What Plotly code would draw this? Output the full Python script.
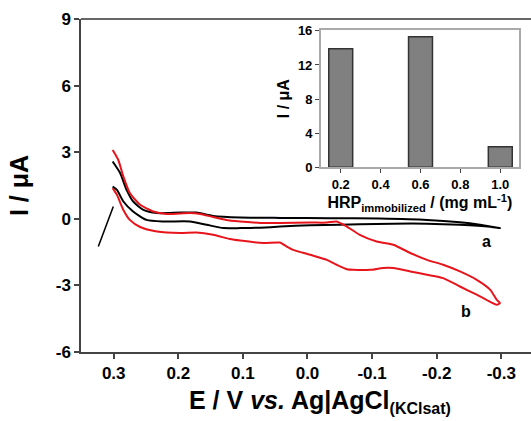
import plotly.graph_objects as go

# Curve a (black) : E / V, I / uA  (upper branch then return branch)
a_E = [0.3016, 0.290, 0.280, 0.270, 0.254, 0.233, 0.197, 0.172, 0.146, 0.104, 0.042, -0.035, -0.112, -0.185, -0.236, -0.267, -0.298,
       -0.283, -0.236, -0.185, -0.132, -0.081, -0.050, -0.004, 0.042, 0.073, 0.104, 0.130, 0.156, 0.182, 0.223, 0.249, 0.270, 0.285, 0.295, 0.3016]
a_I = [2.58, 2.06, 1.30, 0.78, 0.40, 0.26, 0.28, 0.28, 0.13, 0.06, 0.04, 0.03, 0.01, -0.05, -0.16, -0.27, -0.42,
       -0.36, -0.27, -0.22, -0.22, -0.25, -0.27, -0.29, -0.35, -0.40, -0.42, -0.42, -0.27, -0.12, -0.12, -0.05, 0.33, 0.78, 1.30, 1.45]

# Curve b (red)
b_E = [0.3016, 0.293, 0.285, 0.275, 0.259, 0.239, 0.218, 0.182, 0.166, 0.146, 0.120, 0.104, 0.073, 0.042, -0.004, -0.030, -0.045,
       -0.061, -0.081, -0.107, -0.133, -0.159, -0.185, -0.210, -0.236, -0.262, -0.283, -0.293, -0.298,
       -0.293, -0.277, -0.262, -0.236, -0.210, -0.185, -0.159, -0.133, -0.117, -0.097, -0.071, -0.061, -0.045, -0.030,
       -0.004, 0.022, 0.032, 0.043, 0.068, 0.104, 0.120, 0.146, 0.172, 0.197, 0.233, 0.259, 0.275, 0.285, 0.295, 0.3016]
b_I = [3.10, 2.66, 1.90, 1.16, 0.63, 0.33, 0.22, 0.26, 0.22, 0.08, -0.08, -0.12, -0.19, -0.19, -0.17, -0.17, -0.12,
       -0.35, -0.72, -1.02, -1.17, -1.54, -1.85, -2.07, -2.37, -2.75, -3.20, -3.65, -3.80,
       -3.87, -3.65, -3.42, -3.05, -2.67, -2.52, -2.37, -2.22, -2.22, -2.30, -2.30, -2.27, -2.07, -1.85,
       -1.62, -1.40, -1.25, -1.07, -1.09, -0.98, -0.91, -0.72, -0.62, -0.64, -0.57, -0.37, -0.05, 0.40, 1.08, 1.38]

# short black segment at the start
s_E = [0.3238, 0.3006]
s_I = [-1.25, 0.55]

main_xticks = [0.3, 0.2, 0.1, 0.0, -0.1, -0.2, -0.3]
main_xticklabels = ["0.3", "0.2", "0.1", "0.0", "-0.1", "-0.2", "-0.3"]
main_yticks = [-6, -3, 0, 3, 6, 9]
main_yticklabels = ["-6", "-3", "0", "3", "6", "9"]

# Inset bar chart
hrp_conc = [0.2, 0.6, 1.0]
hrp_current = [13.9, 15.3, 2.4]
inset_xticks = [0.2, 0.4, 0.6, 0.8, 1.0]
inset_xticklabels = ["0.2", "0.4", "0.6", "0.8", "1.0"]
inset_yticks = [0, 4, 8, 12, 16]

FONT = "Liberation Sans, Arial, sans-serif"

fig = go.Figure()
fig.add_trace(go.Scatter(x=a_E, y=a_I, mode="lines", line=dict(color="black", width=2, shape="spline", smoothing=0.6), showlegend=False))
fig.add_trace(go.Scatter(x=b_E, y=b_I, mode="lines", line=dict(color="#e8141b", width=2, shape="spline", smoothing=0.6), showlegend=False))
fig.add_trace(go.Scatter(x=s_E, y=s_I, mode="lines", line=dict(color="black", width=1.5), showlegend=False))

fig.add_trace(go.Bar(x=hrp_conc, y=hrp_current, width=0.12, xaxis="x2", yaxis="y2",
                     marker=dict(color="#808080", line=dict(color="#333333", width=1.5)), showlegend=False))

fig.update_layout(
    width=531, height=421,
    margin=dict(l=81, r=0, t=19, b=69),
    paper_bgcolor="white", plot_bgcolor="white",
    font=dict(family=FONT, color="black"),
    xaxis=dict(range=[0.3506, -0.346], tickvals=main_xticks, ticktext=main_xticklabels, automargin=False,
               showgrid=False, zeroline=False, showline=True, linecolor="#444", linewidth=1.5,
               ticks="outside", ticklen=5, tickcolor="#444", tickwidth=1.5,
               tickfont=dict(size=17, family=FONT, weight="bold")),
    yaxis=dict(range=[-6, 9], tickvals=main_yticks, ticktext=main_yticklabels, automargin=False,
               showgrid=False, zeroline=False, showline=True, linecolor="#444", linewidth=1.5,
               ticks="outside", ticklen=5, tickcolor="#444", tickwidth=1.5,
               tickfont=dict(size=17, family=FONT, weight="bold"),
               title=dict(text="<b>I / μA</b>", font=dict(size=25, family=FONT), standoff=20)),
    xaxis2=dict(domain=[0.5327, 0.9733], anchor="y2", range=[0.0997, 1.0937], automargin=False,
                tickvals=inset_xticks, ticktext=inset_xticklabels,
                showgrid=False, zeroline=False, showline=True, mirror=True, linecolor="#aaaaaa", linewidth=1.5,
                ticks="outside", ticklen=4, tickcolor="#444", tickwidth=1.2,
                tickfont=dict(size=13, family=FONT, weight="bold"),
                title=dict(text="<b>HRP<sub>immobilized</sub> / (mg mL<sup>-1</sup>)</b>",
                           font=dict(size=16, family=FONT), standoff=2)),
    yaxis2=dict(domain=[0.5547, 0.967], anchor="x2", range=[0, 16.1], tickvals=inset_yticks, automargin=False,
                showgrid=False, zeroline=False, showline=True, mirror=True, linecolor="#aaaaaa", linewidth=1.5,
                ticks="outside", ticklen=4, tickcolor="#444", tickwidth=1.2,
                tickfont=dict(size=13, family=FONT, weight="bold"),
                title=dict(text="<b>I / μA</b>", font=dict(size=16, family=FONT), standoff=4)),
    shapes=[dict(type="line", xref="paper", yref="paper", x0=0, x1=1, y0=1, y1=1,
                 line=dict(color="#666666", width=2))],
    annotations=[
        dict(x=0.531, y=-0.096, xref="paper", yref="paper", xanchor="center", yanchor="top",
             text="<b>E / V <i>vs.</i> Ag|AgCl<sub><span style='font-size:16px'>(KClsat)</span></sub></b>",
             showarrow=False, font=dict(size=25, family=FONT, color="black")),
        dict(x=-0.277, y=-1.02, xref="x", yref="y", text="<b>a</b>", showarrow=False,
             font=dict(size=16, family=FONT, color="black")),
        dict(x=-0.246, y=-4.17, xref="x", yref="y", text="<b>b</b>", showarrow=False,
             font=dict(size=16, family=FONT, color="black")),
    ],
)

fig.write_html("out.html", config={"displayModeBar": False},
               post_script="document.body.style.margin='0';document.body.style.padding='0';document.body.style.overflow='hidden';")
